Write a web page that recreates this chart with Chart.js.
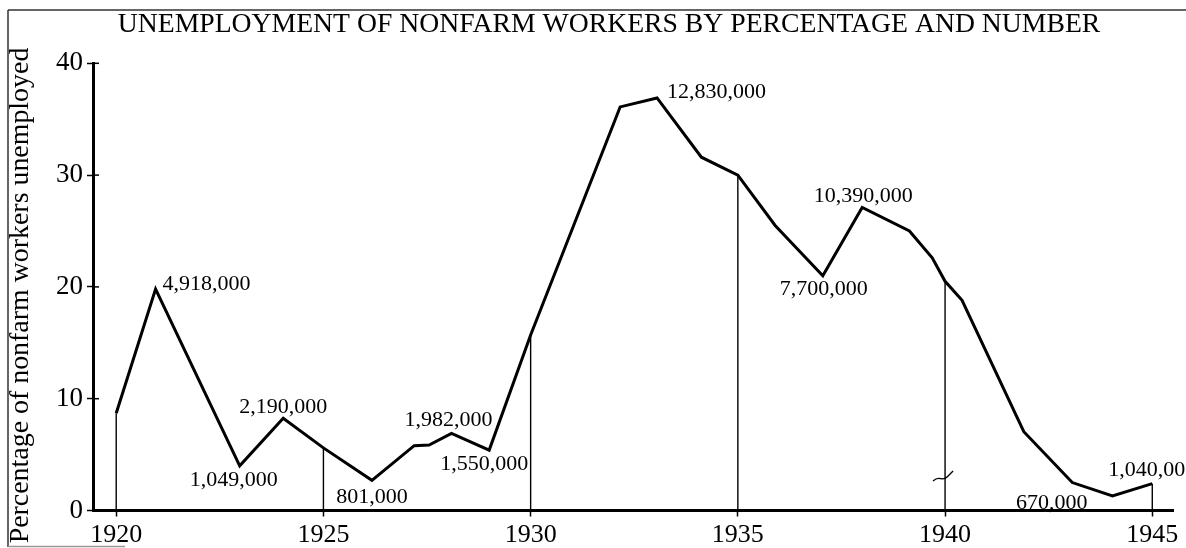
<!DOCTYPE html>
<html>
<head>
<meta charset="utf-8">
<title>Unemployment of nonfarm workers</title>
<script src="https://cdn.jsdelivr.net/npm/chart.js@4.4.1/dist/chart.umd.min.js"></script>
<style>
  body { margin: 0; background: #fff; }
  #unemployment-chart { display: block; }
</style>
</head>
<body>
<canvas id="unemployment-chart" width="1186" height="548"></canvas>
<script>
/* Data */
let years = [1920, 1920.95, 1922.98, 1924.03, 1925, 1926.17, 1927.19, 1927.55, 1928.09, 1929, 1930,
  1932.16, 1933.05, 1934.12, 1935, 1935.9, 1937.05, 1938, 1939.14, 1939.69, 1940, 1940.41,
  1941.9, 1943.07, 1944.04, 1945]
let percentUnemployed = [8.7, 19.8, 4.0, 8.25, 5.6, 2.7, 5.8, 5.85, 6.9, 5.4, 15.7,
  36.1, 36.9, 31.6, 30.0, 25.5, 21.0, 27.1, 25.0, 22.6, 20.5, 18.8,
  7.05, 2.5, 1.3, 2.4]

// number of workers written next to some of the points (index into the series above)
let workerCounts = ['4,918,000', '1,049,000', '2,190,000', '801,000', '1,982,000', '1,550,000',
  '12,830,000', '7,700,000', '10,390,000', '670,000', '1,040,000']
let workerCountAt = [1, 2, 3, 5, 8, 9, 12, 16, 17, 24, 25]

let yearTicks = [1920, 1925, 1930, 1935, 1940, 1945]
let percentTicks = [0, 10, 20, 30, 40]
let dropLineYears = [1920, 1925, 1930, 1935, 1940, 1945]

let chartTitle = 'UNEMPLOYMENT OF NONFARM WORKERS BY PERCENTAGE AND NUMBER'
let yAxisTitle = 'Percentage of nonfarm workers unemployed'

/* where each count label sits relative to its point: [align, dx, dy] */
let countLabelPlacement = [
  ['left', 7, -5], ['center', -6, 14], ['center', 0, -11], ['center', 0, 17],
  ['center', -3, -13], ['center', -5, 14], ['left', 10, -6], ['center', 1, 13],
  ['center', 1, -11], ['right', -25, 7], ['center', 0, -13]
]

let serif = '"Liberation Serif", "Times New Roman", serif'

// main series
let mainData = years.map(function (yr, i) { return { x: yr, y: percentUnemployed[i] } })

// thin vertical lines dropped from the curve to the axis every five years
let dropDatasets = dropLineYears.map(function (yr) {
  let i = years.indexOf(yr)
  return {
    data: [{ x: yr, y: 0 }, { x: yr, y: percentUnemployed[i] }],
    borderColor: '#000',
    borderWidth: 1.4,
    pointRadius: 0,
    order: 2
  }
})

let decorations = {
  id: 'decorations',
  beforeDraw: function (chart) {
    let ctx = chart.ctx
    ctx.save()
    ctx.fillStyle = '#fff'
    ctx.fillRect(0, 0, chart.width, chart.height)
    // scanned frame
    ctx.strokeStyle = '#333'
    ctx.lineWidth = 1.5
    ctx.beginPath()
    ctx.moveTo(8, 10); ctx.lineTo(chart.width, 10)
    ctx.moveTo(8, 10); ctx.lineTo(8, 547)
    ctx.stroke()
    ctx.strokeStyle = '#999'
    ctx.beginPath()
    ctx.moveTo(8, 546.5); ctx.lineTo(125, 546.5)
    ctx.stroke()
    ctx.restore()
  },
  afterDraw: function (chart) {
    let ctx = chart.ctx
    let xs = chart.scales.x
    let ys = chart.scales.y
    ctx.save()

    // title
    ctx.fillStyle = '#000'
    ctx.font = '27.7px ' + serif
    ctx.textAlign = 'center'
    ctx.textBaseline = 'middle'
    ctx.fillText(chartTitle, 609, 25)

    // y axis title, sits a little below the middle of the axis in the original
    ctx.save()
    ctx.translate(21, 295.5)
    ctx.rotate(-Math.PI / 2)
    ctx.font = '27.9px ' + serif
    ctx.fillText(yAxisTitle, 0, 0)
    ctx.restore()

    // inner half of the y ticks (they cross the axis)
    ctx.strokeStyle = '#000'
    ctx.lineWidth = 1.5
    ys.ticks.forEach(function (t) {
      let py = ys.getPixelForValue(t.value)
      ctx.beginPath()
      ctx.moveTo(xs.left, py)
      ctx.lineTo(xs.left + 6, py)
      ctx.stroke()
    })

    // small break mark on the 1940 drop line
    let bx = xs.getPixelForValue(1940)
    let by = ys.getPixelForValue(3)
    ctx.lineWidth = 1.3
    ctx.beginPath()
    ctx.moveTo(bx - 12, by + 4)
    ctx.bezierCurveTo(bx - 6, by - 2, bx - 3, by + 5, bx + 2, by)
    ctx.bezierCurveTo(bx + 4, by - 2, bx + 6, by - 4, bx + 8, by - 6)
    ctx.stroke()

    // worker counts
    ctx.font = '22px ' + serif
    ctx.textBaseline = 'middle'
    workerCounts.forEach(function (txt, k) {
      let i = workerCountAt[k]
      let place = countLabelPlacement[k]
      let px = xs.getPixelForValue(years[i])
      let py = ys.getPixelForValue(percentUnemployed[i])
      ctx.textAlign = place[0]
      ctx.fillText(txt, px + place[1], py + place[2])
    })
    ctx.restore()
  }
}

let ctx = document.querySelector('#unemployment-chart').getContext('2d')

let unemploymentChart = new Chart(ctx, {
  type: 'line',
  data: {
    datasets: [
      {
        data: mainData,
        borderColor: '#000',
        borderWidth: 3,
        borderJoinStyle: 'miter',
        pointRadius: 0,
        tension: 0,
        order: 1
      }
    ].concat(dropDatasets)
  },
  options: {
    responsive: false,
    animation: false,
    devicePixelRatio: 1,
    layout: { padding: { top: 63.3, right: 13, left: 0, bottom: 0 } },
    plugins: {
      legend: { display: false },
      tooltip: { enabled: false },
      title: { display: false }
    },
    scales: {
      x: {
        type: 'linear',
        min: 1919.44,
        max: 1945.5,
        afterBuildTicks: function (scale) {
          scale.ticks = yearTicks.map(function (v) { return { value: v } })
        },
        afterFit: function (scale) { scale.height = 37.5 },
        grid: { drawOnChartArea: false, tickLength: 6, tickColor: '#000', tickWidth: 1.5 },
        border: { color: '#000', width: 3 },
        ticks: {
          color: '#000',
          font: { family: serif, size: 26 },
          padding: 3,
          autoSkip: false,
          maxRotation: 0,
          callback: function (v) { return String(v) }
        }
      },
      y: {
        min: 0,
        max: 40,
        afterBuildTicks: function (scale) {
          scale.ticks = percentTicks.map(function (v) { return { value: v } })
        },
        afterFit: function (scale) { scale.width = 93 },
        grid: { drawOnChartArea: false, tickLength: 6, tickColor: '#000', tickWidth: 1.5 },
        border: { color: '#000', width: 3 },
        ticks: {
          color: '#000',
          font: { family: serif, size: 27 },
          padding: 4
        }
      }
    }
  },
  plugins: [decorations]
})
</script>
</body>
</html>
